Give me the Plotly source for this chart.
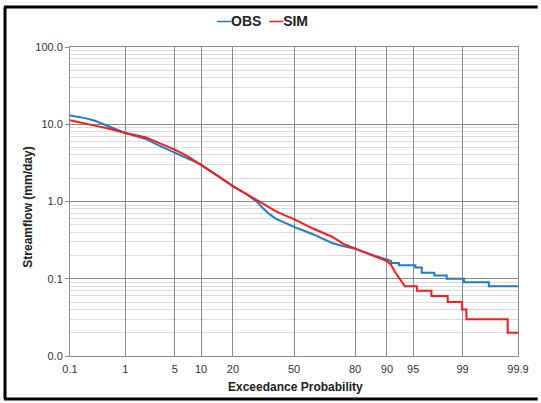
import plotly.graph_objects as go
from statistics import NormalDist

nd = NormalDist()

# ---- data (exceedance probability in %, streamflow in mm/day) ----
obs_p = [0.1, 0.2, 0.3, 0.5, 0.7, 1, 2, 3, 5, 7, 10, 15, 20, 25, 30, 33, 36, 40, 45, 50,
         60, 70, 75, 80, 85, 88, 90, 91, 91, 92.6, 92.6, 95.3, 95.3, 96.1, 96.1, 97.35,
         97.35, 98.24, 98.24, 99.05, 99.05, 99.64, 99.64, 99.9]
obs_q = [13.0, 12.0, 11.1, 9.6, 8.6, 7.7, 6.5, 5.4, 4.3, 3.6, 3.0, 2.1, 1.57, 1.27, 1.02, 0.84, 0.71, 0.6, 0.53, 0.47,
         0.38, 0.29, 0.265, 0.245, 0.21, 0.19, 0.175, 0.17, 0.16, 0.16, 0.15, 0.15, 0.14, 0.14, 0.12, 0.12,
         0.11, 0.11, 0.10, 0.10, 0.09, 0.09, 0.08, 0.08]

sim_p = [0.1, 0.15, 0.2, 0.3, 0.5, 0.7, 1, 2, 3, 5, 7, 10, 15, 20, 25, 30, 35, 40, 45, 50,
         60, 70, 75, 80, 85, 88, 90, 91, 91.8, 92.8, 93.7, 95.5, 95.5, 97.1, 97.1, 98.3,
         98.3, 98.98, 98.98, 99.13, 99.13, 99.84, 99.84, 99.9]
sim_q = [11.3, 10.6, 10.2, 9.6, 8.9, 8.3, 7.7, 6.8, 5.8, 4.7, 3.9, 3.0, 2.1, 1.58, 1.28, 1.05, 0.88, 0.75, 0.66, 0.59,
         0.45, 0.35, 0.285, 0.245, 0.205, 0.185, 0.17, 0.15, 0.123, 0.10, 0.08, 0.08, 0.07, 0.07, 0.06, 0.06,
         0.05, 0.05, 0.04, 0.04, 0.03, 0.03, 0.02, 0.02]

x_tick_labels = ["0.1", "1", "5", "10", "20", "50", "80", "90", "95", "99", "99.9"]
y_tick_vals = [0.01, 0.1, 1, 10, 100]
y_tick_text = ["0.0", "0.1", "1.0", "10.0", "100.0"]

OBS_COLOR = "#1F7BC8"
SIM_COLOR = "#FF1A1A"


def z(p):
    return nd.inv_cdf(p / 100.0)


x_tick_vals = [z(float(t)) for t in x_tick_labels]
minor_vals = [m * 10 ** e for e in range(-2, 2) for m in range(2, 10)]

font_family = "Liberation Sans, Arial, sans-serif"

fig = go.Figure()
fig.add_trace(go.Scatter(x=[z(p) for p in obs_p], y=obs_q, mode="lines", name="OBS",
                         line=dict(color=OBS_COLOR, width=2)))
fig.add_trace(go.Scatter(x=[z(p) for p in sim_p], y=sim_q, mode="lines", name="SIM",
                         line=dict(color=SIM_COLOR, width=2)))

L, R, T, B = 70, 16, 47, 47
W, H = 541, 403
pw, ph = W - L - R, H - T - B


def px2x(px):
    return (px - L) / pw


def py2y(py):
    return (H - B - py) / ph


legend_text = (f"<span style='color:{OBS_COLOR}'>—</span>OBS&nbsp;&nbsp;"
               f"<span style='color:{SIM_COLOR}'>—</span>SIM")

fig.update_layout(
    width=W, height=H,
    margin=dict(l=L, r=R, t=T, b=B),
    paper_bgcolor="white", plot_bgcolor="white",
    font=dict(family=font_family, size=11, color="#333333"),
    showlegend=False,
    xaxis=dict(range=[nd.inv_cdf(0.001), nd.inv_cdf(0.999)],
               tickmode="array", tickvals=x_tick_vals, ticktext=x_tick_labels,
               showgrid=True, gridcolor="#8c8c8c", gridwidth=1, zeroline=False,
               showline=True, linecolor="#8c8c8c", mirror=True,
               ticks="", ticklabelstandoff=3, tickfont=dict(size=11, color="#333333")),
    yaxis=dict(type="log", range=[-2, 2], tickmode="array", tickvals=y_tick_vals,
               ticktext=y_tick_text, showgrid=True, gridcolor="#8c8c8c", gridwidth=1,
               zeroline=False, showline=True, linecolor="#8c8c8c", mirror=True,
               ticks="outside", ticklen=4, tickcolor="#8c8c8c",
               tickfont=dict(size=11, color="#333333"),
               minor=dict(tickvals=minor_vals, showgrid=True, gridcolor="#dcdcdc",
                          gridwidth=1, ticks="")),
    annotations=[
        dict(text=legend_text, xref="paper", yref="paper",
             x=px2x(266), y=py2y(21), showarrow=False, xanchor="center", yanchor="middle",
             font=dict(family=font_family, size=14, color="#222222", weight="bold")),
        dict(text="Exceedance Probability", xref="paper", yref="paper",
             x=px2x(299), y=py2y(387), showarrow=False, xanchor="center", yanchor="middle",
             font=dict(family=font_family, size=12, color="#222222", weight="bold")),
        dict(text="Streamflow (mm/day)", xref="paper", yref="paper", textangle=-90,
             x=px2x(27), y=py2y(207), showarrow=False, xanchor="center", yanchor="middle",
             font=dict(family=font_family, size=12, color="#222222", weight="bold")),
    ],
    shapes=[
        dict(type="line", xref="paper", yref="paper", x0=px2x(4), x1=px2x(4),
             y0=py2y(7), y1=py2y(399), line=dict(color="black", width=3)),
        dict(type="line", xref="paper", yref="paper", x0=px2x(3), x1=px2x(545),
             y0=py2y(7), y1=py2y(7), line=dict(color="black", width=3)),
        dict(type="line", xref="paper", yref="paper", x0=px2x(3), x1=px2x(545),
             y0=py2y(399), y1=py2y(399), line=dict(color="black", width=3)),
    ],
)

fig.write_html("out.html")
